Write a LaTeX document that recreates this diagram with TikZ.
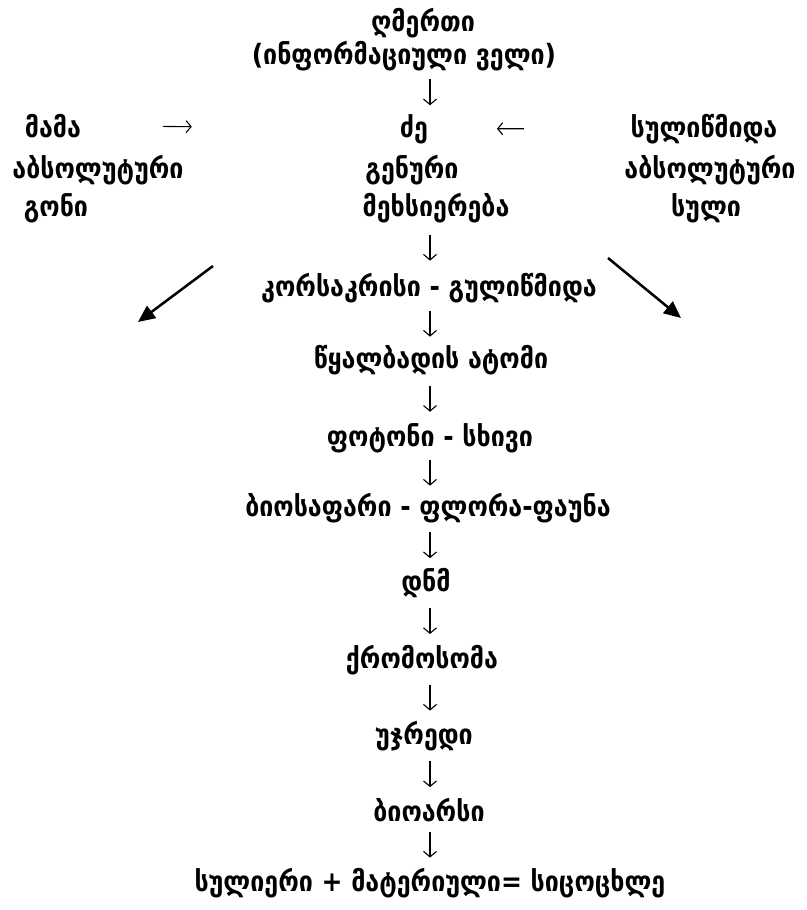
\documentclass[tikz,border=0pt]{standalone}
\usepackage{fontspec}
\usepackage{graphicx}
\newfontfamily\geo{DejaVu Sans}
\usetikzlibrary{arrows.meta,calc}
\newcommand\gt[1]{\scalebox{1}[1.12]{#1}}
\tikzset{
  lbl/.style={font=\geo\bfseries\fontsize{25}{28}\selectfont, inner sep=0pt, anchor=base},
  darr/.style={line width=1.1pt, -{Straight Barb[length=5.5pt,width=13pt,line width=1.1pt]}},
  harr/.style={line width=1.1pt, -{Straight Barb[length=5pt,width=12pt,line width=1.1pt]}},
  diag/.style={line width=2.5pt, -{Triangle[length=17pt,width=15pt]}}
}
\newcommand\vconn[2]{\draw[darr] ($(ax|-#1.south)!.5!(ax|-#2.north)$) ++(0,-13) -- ++(0,26);}
\begin{document}
\begin{tikzpicture}[x=1pt,y=-1pt]
\useasboundingbox (0,0) rectangle (806,910);
\coordinate (ax) at (430,0);
\node[lbl] (god1) at (423,31) {\gt{ღმერთი}};
\node[lbl] (god2) at (404,64) {\gt{(ინფორმაციული ველი)}};
\node[lbl] (mama1) at (53,137) {\gt{მამა}};
\node[lbl] (mama2) at (98,178) {\gt{აბსოლუტური}};
\node[lbl] (mama3) at (56,216) {\gt{გონი}};
\node[lbl] (dze1) at (414,137) {\gt{ძე}};
\node[lbl] (dze2) at (412,178) {\gt{გენური}};
\node[lbl] (dze3) at (436,216) {\gt{მეხსიერება}};
\node[lbl] (sul1) at (704,137) {\gt{სულიწმიდა}};
\node[lbl] (sul2) at (710,178) {\gt{აბსოლუტური}};
\node[lbl] (sul3) at (706,216) {\gt{სული}};
\node[lbl] (kor) at (429,296) {\gt{კორსაკრისი - გულიწმიდა}};
\node[lbl] (wya) at (431,368) {\gt{წყალბადის ატომი}};
\node[lbl] (fot) at (430,446) {\gt{ფოტონი - სხივი}};
\node[lbl] (bio) at (428,516) {\gt{ბიოსაფარი - ფლორა-ფაუნა}};
\node[lbl] (dnm) at (426,591) {\gt{დნმ}};
\node[lbl] (qro) at (422,668) {\gt{ქრომოსომა}};
\node[lbl] (ujr) at (424,744) {\gt{უჯრედი}};
\node[lbl] (bioa) at (429,821) {\gt{ბიოარსი}};
\node[lbl] (fin) at (430,891) {\gt{სულიერი + მატერიული= სიცოცხლე}};
\vconn{god2}{dze1}
\vconn{dze3}{kor}
\vconn{kor}{wya}
\vconn{wya}{fot}
\vconn{fot}{bio}
\vconn{bio}{dnm}
\vconn{dnm}{qro}
\vconn{qro}{ujr}
\vconn{ujr}{bioa}
\vconn{bioa}{fin}
\draw[harr] ($(mama1.east)!0.256!(dze1.west)$) -- ($(mama1.east)!0.347!(dze1.west)$);
\draw[harr] ($(sul1.west)!0.527!(dze1.east)$) -- ($(sul1.west)!0.66!(dze1.east)$);
\coordinate (ltail) at (213,266);
\coordinate (lhead) at (138,322);
\coordinate (rtail) at (608,258);
\coordinate (rhead) at (681,318);
\draw[diag] (ltail) -- (lhead);
\draw[diag] (rtail) -- (rhead);
\end{tikzpicture}
\end{document}
